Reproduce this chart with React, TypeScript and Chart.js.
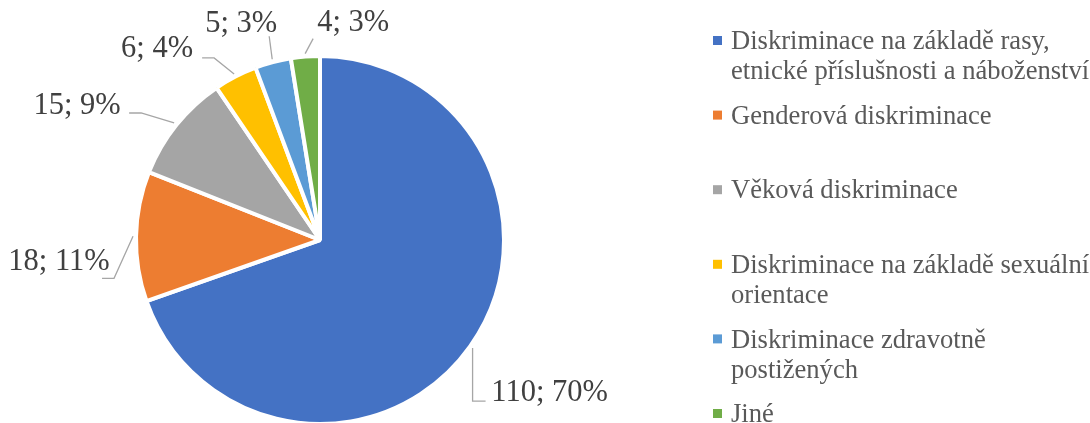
import React, { useEffect, useRef } from "react";
import { Chart, registerables } from "chart.js";

Chart.register(...registerables);

const categories = [
  "Diskriminace na základě rasy, etnické příslušnosti a náboženství",
  "Genderová diskriminace",
  "Věková diskriminace",
  "Diskriminace na základě sexuální orientace",
  "Diskriminace zdravotně postižených",
  "Jiné",
];
const values = [110, 18, 15, 6, 5, 4];
const colors = ["#4472C4", "#ED7D31", "#A5A5A5", "#FFC000", "#5B9BD5", "#70AD47"];

// label placement relative to the slice's outer edge (layout only)
const labelLayout = [
  { dx: 77, dy: 43, ax: -64, ay: 10, elbow: "v" },
  { dx: -74, dy: 23, ax: 43, ay: 19, elbow: "h" },
  { dx: -97, dy: -19, ax: 52, ay: 9, elbow: "h" },
  { dx: -77, dy: -27, ax: 45, ay: 11, elbow: "h" },
  { dx: -31, dy: -38, ax: 28, ay: 15, elbow: "" },
  { dx: 48, dy: -33, ax: -40, ay: 18, elbow: "" },
];

const FONT = '"Liberation Serif", "Times New Roman", serif';

export default function App() {
  const ref = useRef<HTMLCanvasElement>(null);

  useEffect(() => {
    if (!ref.current) return;
    const total = values.reduce((a, b) => a + b, 0);

    const outLabels = {
      id: "outLabels",
      afterDatasetsDraw(chart: any) {
        const ctx = chart.ctx;
        const meta = chart.getDatasetMeta(0);
        ctx.save();
        const fs = 30.5;
        ctx.font = `${fs}px ${FONT}`;
        ctx.textAlign = "center";
        ctx.textBaseline = "alphabetic";
        meta.data.forEach((arc: any, i: number) => {
          const p = arc.getProps(["x", "y", "startAngle", "endAngle", "outerRadius"], true);
          const mid = (p.startAngle + p.endAngle) / 2;
          const sx = p.x + Math.cos(mid) * (p.outerRadius + 3);
          const sy = p.y + Math.sin(mid) * (p.outerRadius + 3);
          const L = labelLayout[i];
          const cx = sx + L.dx;
          const cy = sy + L.dy;
          const ex = cx + L.ax;
          const ey = cy + L.ay;
          ctx.strokeStyle = "#A6A6A6";
          ctx.lineWidth = 1.3;
          ctx.beginPath();
          ctx.moveTo(sx, sy);
          if (L.elbow === "v") ctx.lineTo(sx, ey);
          else if (L.elbow === "h") ctx.lineTo(ex + 12, ey);
          ctx.lineTo(ex, ey);
          ctx.stroke();
          const v = values[i];
          const txt = `${v}; ${Math.round((v / total) * 100)}%`;
          ctx.fillStyle = "#404040";
          ctx.fillText(txt, cx, cy + fs * 0.338);
        });
        ctx.restore();
      },
    };

    const sideLegend = {
      id: "sideLegend",
      afterDraw(chart: any) {
        const ctx = chart.ctx;
        ctx.save();
        const fs = 26.6;
        ctx.font = `${fs}px ${FONT}`;
        ctx.textAlign = "left";
        ctx.textBaseline = "alphabetic";
        const x0 = 713;
        const tx = 731;
        const maxW = 364;
        const top = 40.5;
        const step = 74.6;
        categories.forEach((cat, i) => {
          const yc = top + i * step;
          ctx.fillStyle = colors[i];
          ctx.fillRect(x0, yc - 4.5, 9, 9);
          const words = cat.split(" ");
          const lines: string[] = [];
          let cur = "";
          words.forEach((w) => {
            const test = cur ? cur + " " + w : w;
            if (ctx.measureText(test).width > maxW && cur) {
              lines.push(cur);
              cur = w;
            } else cur = test;
          });
          if (cur) lines.push(cur);
          ctx.fillStyle = "#595959";
          lines.forEach((ln, j) => {
            ctx.fillText(ln, tx, yc + fs * 0.33 + j * 30);
          });
        });
        ctx.restore();
      },
    };

    const chart = new Chart(ref.current, {
      type: "pie",
      data: {
        labels: categories,
        datasets: [
          {
            data: values,
            backgroundColor: colors,
            borderColor: "#FFFFFF",
            borderWidth: 4,
            hoverBorderWidth: 4,
            hoverOffset: 0,
          },
        ],
      },
      options: {
        responsive: false,
        animation: false,
        devicePixelRatio: 1,
        layout: { padding: { left: 134, top: 54, right: 584, bottom: 14 } },
        plugins: {
          legend: { display: false },
          tooltip: { enabled: false },
        },
      },
      plugins: [outLabels, sideLegend],
    });
    return () => chart.destroy();
  }, []);

  return (
    <div style={{ position: "fixed", left: 0, top: 0, width: 1090, height: 423, overflow: "hidden", background: "#fff" }}>
      <canvas ref={ref} width={1090} height={440} style={{ display: "block" }} />
    </div>
  );
}
